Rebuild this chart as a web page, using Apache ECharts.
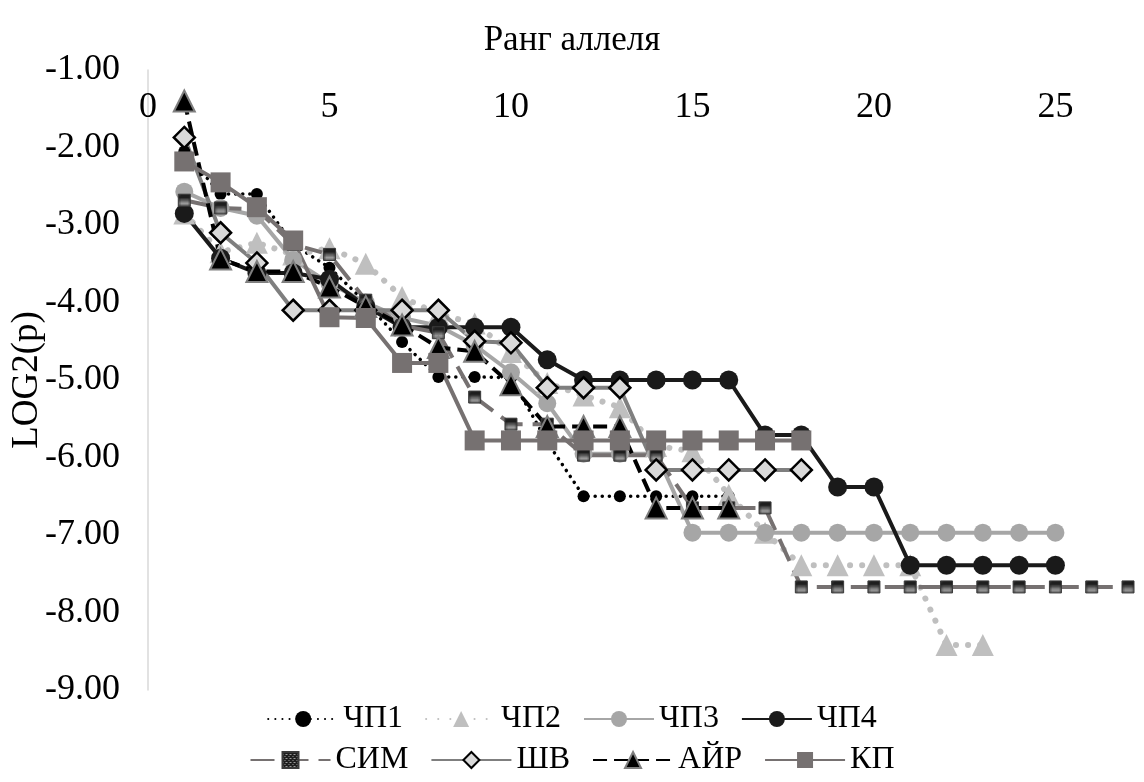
<!DOCTYPE html>
<html>
<head>
<meta charset="utf-8">
<script src="https://cdn.jsdelivr.net/npm/echarts@6/dist/echarts.min.js"></script>
<style>
  html, body { margin: 0; padding: 0; background: #ffffff; }
  #chart { width: 1144px; height: 782px; }
</style>
</head>
<body>
<div id="chart"></div>
<script>
// log2 of allele frequency by allele rank, one list per population
const seriesNames = ['ЧП1', 'ЧП2', 'ЧП3', 'ЧП4', 'СИМ', 'ШВ', 'АЙР', 'КП'];

const chp1 = [-2.05, -2.6, -2.6, -3.25, -3.55, -4.0, -4.51, -4.96, -4.96, -4.97, -5.8, -6.5, -6.5, -6.5, -6.5, -6.5];
const chp2 = [-2.85, -3.35, -3.23, -3.38, -3.3, -3.5, -3.93, -4.15, -4.27, -4.64, -5.04, -5.2, -5.35, -5.85, -5.92, -6.48, -6.97, -7.39, -7.39, -7.39, -7.39, -8.42, -8.42];
const chp3 = [-2.57, -2.78, -2.88, -3.45, -3.75, -4.0, -4.2, -4.3, -4.55, -4.9, -5.3, -5.95, -5.95, -5.95, -6.97, -6.97, -6.97, -6.97, -6.97, -6.97, -6.97, -6.97, -6.97, -6.97, -6.97];
const chp4 = [-2.85, -3.43, -3.62, -3.62, -3.7, -4.05, -4.32, -4.32, -4.32, -4.32, -4.74, -5.0, -5.0, -5.0, -5.0, -5.0, -5.71, -5.71, -6.38, -6.38, -7.39, -7.39, -7.39, -7.39, -7.39];
const sim  = [-2.68, -2.78, -2.8, -3.25, -3.38, -3.97, -4.3, -4.39, -5.22, -5.57, -5.57, -5.97, -5.97, -5.97, -6.65, -6.65, -6.65, -7.67, -7.67, -7.67, -7.67, -7.67, -7.67, -7.67, -7.67, -7.67, -7.67];
const shv  = [-1.87, -3.1, -3.49, -4.1, -4.1, -4.1, -4.1, -4.1, -4.5, -4.52, -5.1, -5.1, -5.1, -6.16, -6.16, -6.16, -6.16, -6.16];
const air  = [-1.4, -3.44, -3.6, -3.6, -3.8, -4.05, -4.29, -4.58, -4.63, -5.06, -5.6, -5.6, -5.6, -6.65, -6.65, -6.65];
const kp   = [-2.18, -2.45, -2.77, -3.2, -4.19, -4.2, -4.78, -4.78, -5.78, -5.78, -5.78, -5.78, -5.78, -5.78, -5.78, -5.78, -5.78, -5.78];

const xTitle = 'Ранг аллеля';
const yTitle = 'LOG2(p)';

const FONT = '"Liberation Serif", "Times New Roman", serif';

// rank starts at 1
const withRank = arr => arr.map((v, i) => [i + 1, v]);

// small dark speckled fill for the СИМ markers
function speckle() {
  const c = document.createElement('canvas');
  c.width = 4; c.height = 4;
  const g = c.getContext('2d');
  g.fillStyle = '#1e1e1e';
  g.fillRect(0, 0, 4, 4);
  g.fillStyle = '#9a9a9a';
  g.fillRect(0, 0, 1, 1);
  g.fillRect(2, 2, 1, 1);
  g.fillRect(3, 0, 1, 1);
  return c;
}

function line(name, data, o) {
  return {
    name: name,
    type: 'line',
    data: withRank(data),
    symbol: o.symbol,
    symbolSize: o.size,
    showAllSymbol: true,
    lineStyle: { color: o.line, width: o.width, type: o.dash || 'solid', cap: o.cap || 'butt' },
    itemStyle: { color: o.fill, borderColor: o.border || o.fill, borderWidth: o.borderWidth || 0 },
    emphasis: { disabled: true },
    animation: false
  };
}

const chart = echarts.init(document.getElementById('chart'));

chart.setOption({
  backgroundColor: '#ffffff',
  animation: false,
  title: {
    text: xTitle,
    left: 'center',
    top: 18,
    textStyle: { fontFamily: FONT, fontSize: 35, fontWeight: 'normal', color: '#000' }
  },
  grid: { left: 148, right: 16, top: 70, bottom: 92, containLabel: false, outerBoundsMode: 'none' },
  legend: [
    {
      data: seriesNames.slice(0, 4),
      top: 698, left: 'center',
      itemWidth: 70, itemHeight: 20, itemGap: 22,
      textStyle: { fontFamily: FONT, fontSize: 32, color: '#000' }
    },
    {
      data: seriesNames.slice(4),
      top: 739, left: 'center',
      itemWidth: 80, itemHeight: 20, itemGap: 22,
      textStyle: { fontFamily: FONT, fontSize: 32, color: '#000' }
    }
  ],
  xAxis: {
    type: 'value',
    position: 'top',
    min: 0, max: 27, interval: 5,
    axisLine: { show: false },
    axisTick: { show: false },
    splitLine: { show: false },
    axisLabel: {
      inside: true, margin: 20,
      fontFamily: FONT, fontSize: 36, color: '#000',
      formatter: v => (v % 5 === 0 && v <= 25) ? String(v) : ''
    }
  },
  yAxis: {
    type: 'value',
    min: -9, max: -1, interval: 1,
    name: yTitle,
    nameLocation: 'middle',
    nameRotate: 90,
    nameGap: 102,
    nameMoveOverlap: false,
    nameTextStyle: { fontFamily: FONT, fontSize: 37, color: '#000' },
    axisLine: { show: true, onZero: false, lineStyle: { color: '#d9d9d9', width: 1.5 } },
    axisTick: { show: false },
    splitLine: { show: false },
    axisLabel: {
      margin: 28,
      fontFamily: FONT, fontSize: 36, color: '#000',
      formatter: v => v.toFixed(2)
    }
  },
  series: [
    line('ЧП1', chp1, { symbol: 'circle', size: 12, line: '#000000', width: 3.5, dash: [0.1, 7], cap: 'round', fill: '#000000' }),
    line('ЧП2', chp2, { symbol: 'triangle', size: 22, line: '#bfbfbf', width: 6, dash: [0.1, 12], cap: 'round', fill: '#bfbfbf' }),
    line('ЧП3', chp3, { symbol: 'circle', size: 18, line: '#a6a6a6', width: 4, fill: '#a6a6a6' }),
    line('ЧП4', chp4, { symbol: 'circle', size: 19, line: '#1a1a1a', width: 4, fill: '#1a1a1a' }),
    line('СИМ', sim, { symbol: 'rect', size: 12, line: '#767171', width: 4, dash: [24, 10], fill: { image: speckle(), repeat: 'repeat' }, border: '#3a3a3a', borderWidth: 1 }),
    line('ШВ', shv, { symbol: 'diamond', size: 21, line: '#7f7f7f', width: 4, fill: '#d9d9d9', border: '#000000', borderWidth: 2.5 }),
    line('АЙР', air, { symbol: 'triangle', size: 21, line: '#000000', width: 4, dash: [14, 7], fill: '#000000', border: '#7f7f7f', borderWidth: 2 }),
    line('КП', kp, { symbol: 'rect', size: 20, line: '#767171', width: 4, fill: '#767171' })
  ]
});
</script>
</body>
</html>
